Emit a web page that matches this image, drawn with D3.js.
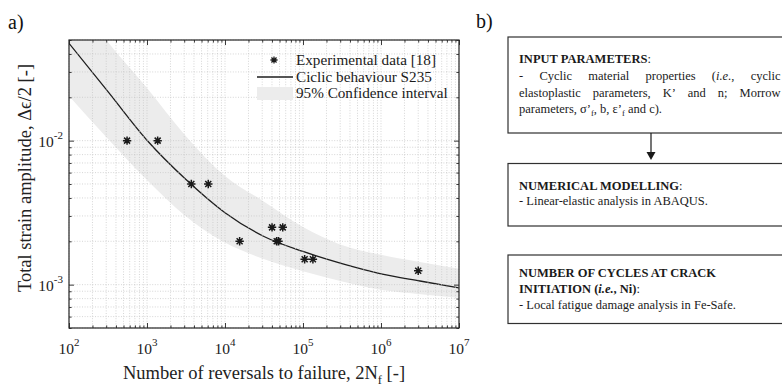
<!DOCTYPE html>
<html>
<head>
<meta charset="utf-8">
<title>Strain-life curve S235</title>
<script src="https://d3js.org/d3.v7.min.js"></script>
<style>
  body { margin: 0; background: #fff; }
</style>
</head>
<body>
<svg width="782" height="385" font-family="Liberation Serif, DejaVu Serif, serif"></svg>
<script>
// experimental points [18]
const pointN = [555, 1370, 3700, 6100, 15400, 40100, 55000, 46000, 48500, 105000, 134000, 3.0e6];
const pointStrain = [0.01, 0.01, 0.005, 0.005, 0.002, 0.0025, 0.0025, 0.002, 0.002, 0.0015, 0.0015, 0.00125];

// cyclic behaviour S235 (half-decade steps)
const curveN = [100, 316, 1000, 3160, 10000, 31600, 100000, 316000, 1e6, 3.16e6, 1e7];
const curveStrain = [0.0474, 0.0219, 0.01007, 0.00537, 0.00316, 0.00216, 0.0017, 0.0014, 0.00119, 0.00106, 0.00095];

// 95% confidence band
const bandN = [100, 300, 1000, 3000, 10000, 30000, 100000, 300000, 1e6, 3e6, 1e7];
const bandUpper = [0.111, 0.050, 0.0232, 0.0111, 0.00569, 0.00384, 0.00251, 0.00190, 0.00161, 0.00144, 0.00129];
const bandLower = [0.0204, 0.0106, 0.00533, 0.00305, 0.00196, 0.00152, 0.00124, 0.00106, 0.00092, 0.00086, 0.00081];

const xMajor = [1e2, 1e3, 1e4, 1e5, 1e6, 1e7];
const yMajor = [1e-3, 1e-2];
const legendLabels = ["Experimental data [18]", "Ciclic behaviour S235", "95% Confidence interval"];

const svg = d3.select("svg");

const m = { left: 69, top: 40, right: 459, bottom: 328 };
const x = d3.scaleLog().domain([1e2, 1e7]).range([m.left, m.right]);
const y = d3.scaleLog().domain([5e-4, 5e-2]).range([m.bottom, m.top]);

// minor tick positions
const xMinor = [];
for (let e = 2; e < 7; e++) for (let k = 2; k <= 9; k++) xMinor.push(k * Math.pow(10, e));
const yMinor = [];
for (let e = -4; e <= -2; e++) for (let k = 2; k <= 9; k++) {
  const v = k * Math.pow(10, e);
  if (v >= 5e-4 && v <= 5e-2) yMinor.push(v);
}

svg.append("clipPath").attr("id", "clip")
  .append("rect").attr("x", m.left).attr("y", m.top)
  .attr("width", m.right - m.left).attr("height", m.bottom - m.top);

const plot = svg.append("g").attr("clip-path", "url(#clip)");

// band
const band = bandN.map((n, i) => ({ n: n, lo: bandLower[i], hi: bandUpper[i] }));
plot.append("path")
  .datum(band)
  .attr("fill", "#ececec")
  .attr("d", d3.area()
    .x(d => x(d.n)).y0(d => y(d.lo)).y1(d => y(d.hi))
    .curve(d3.curveMonotoneX));

// grid
const grid = svg.append("g")
  .attr("stroke", "#c4c4c4").attr("stroke-width", 0.7)
  .attr("stroke-dasharray", "1,1.6");
grid.selectAll(".gx").data(xMajor.concat(xMinor)).enter().append("line")
  .attr("x1", d => x(d)).attr("x2", d => x(d))
  .attr("y1", m.top).attr("y2", m.bottom);
grid.selectAll(".gy").data(yMajor.concat(yMinor)).enter().append("line")
  .attr("y1", d => y(d)).attr("y2", d => y(d))
  .attr("x1", m.left).attr("x2", m.right);

// curve
const curve = curveN.map((n, i) => ({ n: n, v: curveStrain[i] }));
plot.append("path")
  .datum(curve)
  .attr("fill", "none")
  .attr("stroke", "#1e1e1e")
  .attr("stroke-width", 1.3)
  .attr("d", d3.line().x(d => x(d.n)).y(d => y(d.v)).curve(d3.curveMonotoneX));

// asterisk markers
const star = "M-4.2,0H4.2M0,-4.2V4.2M-3,-3L3,3M-3,3L3,-3";
const pts = pointN.map((n, i) => ({ n: n, v: pointStrain[i] }));
svg.append("g").selectAll("path").data(pts).enter().append("path")
  .attr("d", star)
  .attr("transform", d => `translate(${x(d.n)},${y(d.v)})`)
  .attr("fill", "none").attr("stroke", "#1a1a1a").attr("stroke-width", 1.5);

// axes box with inward ticks
function ticks(g, axis) {
  g.call(axis);
  g.selectAll("text").remove();
  g.select(".domain").remove();
  g.selectAll("line").attr("stroke", "#262626").attr("stroke-width", 0.9);
}
svg.append("g").attr("transform", `translate(0,${m.bottom})`)
  .call(g => ticks(g, d3.axisBottom(x).tickValues(xMajor).tickSize(-5)));
svg.append("g").attr("transform", `translate(0,${m.bottom})`)
  .call(g => ticks(g, d3.axisBottom(x).tickValues(xMinor).tickSize(-2.6)));
svg.append("g").attr("transform", `translate(0,${m.top})`)
  .call(g => ticks(g, d3.axisTop(x).tickValues(xMajor).tickSize(-5)));
svg.append("g").attr("transform", `translate(0,${m.top})`)
  .call(g => ticks(g, d3.axisTop(x).tickValues(xMinor).tickSize(-2.6)));
svg.append("g").attr("transform", `translate(${m.left},0)`)
  .call(g => ticks(g, d3.axisLeft(y).tickValues(yMajor).tickSize(-5)));
svg.append("g").attr("transform", `translate(${m.left},0)`)
  .call(g => ticks(g, d3.axisLeft(y).tickValues(yMinor).tickSize(-2.6)));
svg.append("g").attr("transform", `translate(${m.right},0)`)
  .call(g => ticks(g, d3.axisRight(y).tickValues(yMajor).tickSize(-5)));
svg.append("g").attr("transform", `translate(${m.right},0)`)
  .call(g => ticks(g, d3.axisRight(y).tickValues(yMinor).tickSize(-2.6)));

svg.append("rect")
  .attr("x", m.left).attr("y", m.top)
  .attr("width", m.right - m.left).attr("height", m.bottom - m.top)
  .attr("fill", "none").attr("stroke", "#262626").attr("stroke-width", 1.2);

// all text in serif
const serif = "Liberation Serif, DejaVu Serif, serif";

// tick labels
const xl = svg.append("g").attr("fill", "#222").attr("font-size", 15.5).attr("font-family", serif);
xMajor.forEach(v => {
  const t = xl.append("text").attr("x", x(v)).attr("y", 354).attr("text-anchor", "middle");
  t.append("tspan").text("10");
  t.append("tspan").attr("font-size", 11).attr("dy", -8.5).text(Math.round(Math.log10(v)));
});
yMajor.forEach(v => {
  const t = xl.append("text").attr("x", 63).attr("y", y(v) + 6).attr("text-anchor", "end");
  t.append("tspan").text("10");
  t.append("tspan").attr("font-size", 11).attr("dy", -8).text(Math.round(Math.log10(v)));
});

// axis titles
const xt = svg.append("text").attr("x", (m.left + m.right) / 2).attr("y", 379)
  .attr("text-anchor", "middle").attr("font-size", 18.5).attr("fill", "#222")
  .attr("font-family", serif);
xt.append("tspan").text("Number of reversals to failure, 2N");
xt.append("tspan").attr("font-size", 12.5).attr("dy", 4.5).text("f");
xt.append("tspan").attr("dy", -4.5).text(" [-]");

svg.append("text")
  .attr("transform", `translate(31,178) rotate(-90)`)
  .attr("text-anchor", "middle").attr("font-size", 18.5).attr("fill", "#222")
  .attr("font-family", serif)
  .text("Total strain amplitude, \u0394\u03F5/2 [-]");

// legend
const lg = svg.append("g").attr("font-size", 15.2).attr("fill", "#1a1a1a").attr("font-family", serif);
lg.append("path").attr("d", star)
  .attr("transform", "translate(274,60) scale(0.85)")
  .attr("fill", "none").attr("stroke", "#1a1a1a").attr("stroke-width", 1.5);
lg.append("line").attr("x1", 257).attr("x2", 293).attr("y1", 77).attr("y2", 77)
  .attr("stroke", "#1e1e1e").attr("stroke-width", 1.3);
lg.append("rect").attr("x", 257).attr("y", 87).attr("width", 36).attr("height", 13)
  .attr("fill", "#ececec");
lg.selectAll("text").data(legendLabels).enter().append("text")
  .attr("x", 296).attr("y", (d, i) => 65 + i * 16.7).text(d => d);

// panel letters
svg.append("text").attr("x", 8).attr("y", 29).attr("font-size", 20).attr("fill", "#111")
  .attr("font-family", serif).text("a)");
svg.append("text").attr("x", 476).attr("y", 28).attr("font-size", 20).attr("fill", "#111")
  .attr("font-family", serif).text("b)");

// ---------- flowchart ----------
const fc = svg.append("g").attr("font-size", 12.5).attr("fill", "#1a1a1a").attr("font-family", serif);
const bx = 508, tx = 519, textRight = 780.5;
const boxes = [[37, 133], [163.5, 226], [255, 323.5]];
boxes.forEach(b => {
  fc.append("rect").attr("x", bx).attr("y", b[0]).attr("width", 300).attr("height", b[1] - b[0])
    .attr("fill", "#fff").attr("stroke", "#303030").attr("stroke-width", 1.2);
});
fc.append("line").attr("x1", 651).attr("x2", 651).attr("y1", 133).attr("y2", 153)
  .attr("stroke", "#1a1a1a").attr("stroke-width", 1.2);
fc.append("path").attr("d", "M646.5,152L655.5,152L651,160Z").attr("fill", "#1a1a1a");

// write a line made of parts [text, style]
function line(yPos, parts) {
  const t = fc.append("text").attr("x", tx).attr("y", yPos);
  parts.forEach(p => {
    const s = t.append("tspan").text(p[0]);
    if (p[1] && p[1].indexOf("b") >= 0) s.attr("font-weight", "bold");
    if (p[1] && p[1].indexOf("i") >= 0) s.attr("font-style", "italic");
    if (p[1] && p[1].indexOf("s") >= 0) s.attr("font-size", 8.5).attr("dy", 2.5);
    if (p[1] && p[1].indexOf("u") >= 0) s.attr("dy", -2.5);
  });
  return t;
}
// justified line: words are lists of parts
function justify(yPos, words) {
  const g = fc.append("g");
  const texts = words.map(w => {
    const t = g.append("text").attr("x", 0).attr("y", yPos);
    w.forEach(p => {
      const s = t.append("tspan").text(p[0]);
      if (p[1] === "i") s.attr("font-style", "italic");
    });
    return t;
  });
  const lens = texts.map(t => t.node().getComputedTextLength());
  const gap = (textRight - tx - d3.sum(lens)) / (words.length - 1);
  let cx = tx;
  texts.forEach((t, i) => { t.attr("x", cx); cx += lens[i] + gap; });
}

line(63, [["INPUT PARAMETERS", "b"], [":"]]);
justify(80, [[["-"]], [["Cyclic"]], [["material"]], [["properties"]], [["("], ["i.e.", "i"], [","]], [["cyclic"]]]);
justify(96.5, [[["elastoplastic"]], [["parameters,"]], [["K\u2019"]], [["and"]], [["n;"]], [["Morrow"]]]);
line(113, [["parameters, \u03C3\u2019"], ["f", "s"], [", b, \u03B5\u2019", "u"], ["f", "s"], [" and c).", "u"]]);

line(190, [["NUMERICAL MODELLING", "b"], [":"]]);
line(205, [["- Linear-elastic analysis in ABAQUS."]]);

line(277, [["NUMBER OF CYCLES AT CRACK", "b"]]);
line(293, [["INITIATION (", "b"], ["i.e.", "bi"], [", Ni)", "b"], [":"]]);
line(309, [["- Local fatigue damage analysis in Fe-Safe."]]);
</script>
</body>
</html>
